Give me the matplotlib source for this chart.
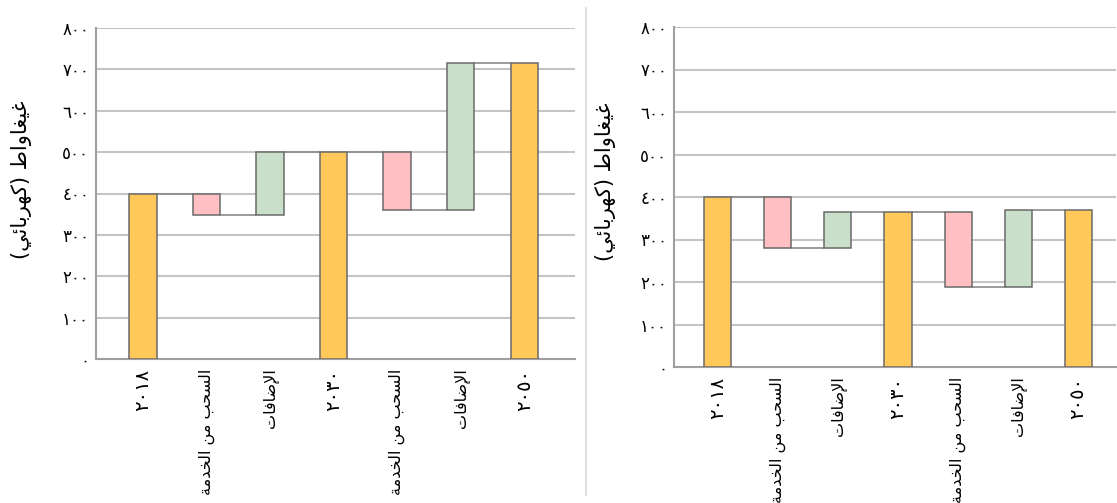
import matplotlib
matplotlib.use('Agg')
import matplotlib.pyplot as plt

# matplotlib does no Arabic shaping or RTL ordering, so labels are written
# with Arabic presentation forms, already in visual (left-to-right) order.
retire_label = '\uFE94\uFEE3\uFEAA\uFEA8\uFEDF\uFE8D \uFEE6\uFEE3 \uFE90\uFEA4\uFEB4\uFEDF\uFE8D'  # السحب من الخدمة
add_label = '\uFE95\uFE8E\uFED3\uFE8E\uFEBF\uFEF9\uFE8D'  # الإضافات
ylabel_text = ('(\uFEF2\uFE8B\uFE8E\uFE91\uFEAE\uFEEC\uFEDB) '
               '\uFEC1\uFE8D\uFEED\uFE8E\uFED0\uFEF4\uFECF')  # غيغاواط (كهربائي)

categories = ['\u0662\u0660\u0661\u0668', retire_label, add_label,
              '\u0662\u0660\u0663\u0660', retire_label, add_label,
              '\u0662\u0660\u0665\u0660']
kinds = ['total', 'delta', 'delta', 'total', 'delta', 'delta', 'total']

left_values = [400, -52, 152, 500, -140, 355, 715]
right_values = [400, -120, 85, 365, -176, 180, 369]

y_ticks = [0, 100, 200, 300, 400, 500, 600, 700, 800]
arabic_digits = str.maketrans('0123456789', '\u0660\u0661\u0662\u0663\u0664\u0665\u0666\u0667\u0668\u0669')
y_ticklabels = [str(t).translate(arabic_digits) for t in y_ticks]

total_color = '#FFC85A'
down_color = '#FFBFC3'
up_color = '#C9DFC9'
edge_color = '#6a6a6a'
grid_color = '#c4c4c4'


def waterfall(ax, values, width, xlim):
    running = 0
    levels = []
    for i, (kind, v) in enumerate(zip(kinds, values)):
        if kind == 'total':
            bottom, height, color = 0, v, total_color
            running = v
        else:
            if v < 0:
                bottom, height, color = running + v, -v, down_color
            else:
                bottom, height, color = running, v, up_color
            running += v
        ax.bar(i, height, bottom=bottom, width=width, color=color,
               edgecolor=edge_color, linewidth=1.1, zorder=3)
        levels.append(running)
    for i in range(len(values) - 1):
        ax.hlines(levels[i], i + width / 2, i + 1 - width / 2,
                  color='#8a8a8a', linewidth=1.2, zorder=2)

    ax.set_xlim(*xlim)
    ax.set_ylim(0, 800)
    ax.set_yticks(y_ticks)
    ax.set_yticklabels(y_ticklabels, fontsize=12)
    ax.set_xticks(range(len(categories)))
    ax.set_xticklabels(categories, rotation=90, va='top', ha='center')
    for lab, kind in zip(ax.get_xticklabels(), kinds):
        # the year labels (digits) look larger in the reference
        lab.set_fontsize(14 if kind == 'total' else 11.5)
    ax.tick_params(length=0, pad=5)
    ax.tick_params(axis='x', pad=7)
    ax.grid(axis='y', color=grid_color, linewidth=1.5, zorder=0)
    ax.set_axisbelow(True)
    for s in ['top', 'right']:
        ax.spines[s].set_visible(False)
    for s in ['left', 'bottom']:
        ax.spines[s].set_color('#a0a0a0')
        ax.spines[s].set_linewidth(1.5)


fig = plt.figure(figsize=(11.17, 5.03), dpi=100)
W, H = 1117, 503

ax1 = fig.add_axes([96 / W, 1 - 359 / H, (575 - 96) / W, (359 - 28) / H])
waterfall(ax1, left_values, 0.43, (-0.74, 6.8))

ax2 = fig.add_axes([674 / W, 1 - 367 / H, (1116 - 674) / W, (367 - 27) / H])
waterfall(ax2, right_values, 0.45, (-0.73, 6.63))

fig.text(22 / W, 1 - 180 / H, ylabel_text, rotation=90, fontsize=15,
         ha='center', va='center')
fig.text(605 / W, 1 - 182 / H, ylabel_text, rotation=90, fontsize=15,
         ha='center', va='center')

fig.add_artist(plt.Line2D([586 / W, 586 / W], [1 - 495 / H, 1 - 8 / H],
                          color='#e2e2e2', linewidth=1.5))

fig.savefig('out.png', dpi=100)
